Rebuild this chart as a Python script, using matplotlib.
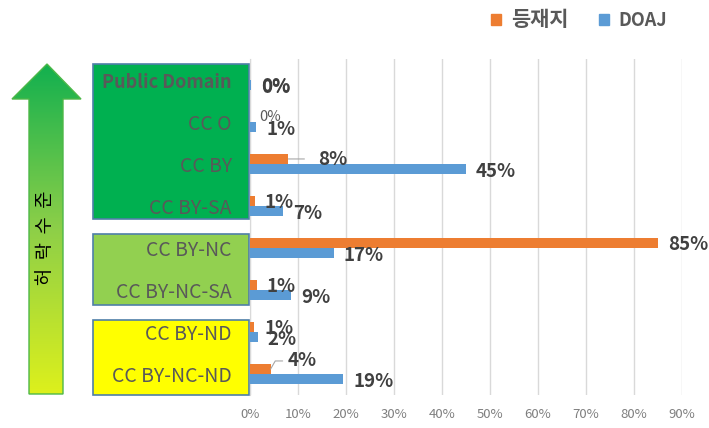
import matplotlib
matplotlib.use("Agg")
import matplotlib.pyplot as plt
import numpy as np
from matplotlib.colors import LinearSegmentedColormap
from matplotlib.patches import Polygon, Rectangle

plt.rcParams["font.family"] = ["Noto Sans CJK KR", "DejaVu Sans"]

# data, top row first
categories = ["Public Domain", "CC O", "CC BY", "CC BY-SA",
              "CC BY-NC", "CC BY-NC-SA", "CC BY-ND", "CC BY-NC-ND"]
journals = [0.0, 0.0, 8.0, 1.0, 85.0, 1.4, 0.9, 4.3]      # 등재지
doaj = [0.3, 1.3, 45.0, 6.9, 17.4, 8.6, 1.6, 19.4]        # DOAJ
series_names = ["등재지", "DOAJ"]
x_ticks = [0, 10, 20, 30, 40, 50, 60, 70, 80, 90]
arrow_text = "허  락  수  준"

ORANGE = "#ED7D31"
BLUE = "#5B9BD5"
LABEL = "#404040"

W, H = 709, 428
fig = plt.figure(figsize=(W / 100, H / 100), dpi=100)

# background layer in pixel coordinates: arrow + group boxes
bg = fig.add_axes([0, 0, 1, 1], zorder=0)
bg.set_xlim(0, W)
bg.set_ylim(H, 0)
bg.axis("off")

arrow_pts = [(47, 64), (12, 99), (29, 99), (29, 394), (63, 394), (63, 99), (81, 99)]
arrow = Polygon(arrow_pts, closed=True, facecolor="none", edgecolor="#4DB848", lw=1.0, zorder=3)
bg.add_patch(arrow)
grad_cmap = LinearSegmentedColormap.from_list("g", ["#12B04F", "#8DCF48", "#DDF01C"])
grad = bg.imshow(np.linspace(0, 1, 256).reshape(-1, 1), cmap=grad_cmap, aspect="auto",
                 extent=(12, 81, 394, 64), zorder=2)
grad.set_clip_path(arrow)
bg.text(46, 238, arrow_text, rotation=90, ha="center", va="center",
        fontsize=13.5, color="black", zorder=4)

boxes = [(64, 219, "#00B050"), (234, 305, "#92D050"), (320, 395, "#FFFF00")]
for top, bottom, color in boxes:
    bg.add_patch(Rectangle((93, top), 156, bottom - top, facecolor=color,
                           edgecolor="#4F7FA8", lw=1.2, zorder=2))

# main chart
ax = fig.add_axes([250 / W, 1 - 395 / H, (682 - 250) / W, (395 - 59) / H], zorder=1)
ax.patch.set_alpha(0)
y = np.arange(len(categories))
h = 0.24
ax.barh(y - h / 2, journals, height=h, color=ORANGE, zorder=3)
ax.barh(y + h / 2, doaj, height=h, color=BLUE, zorder=3)
ax.set_ylim(len(categories) - 0.5, -0.5)
ax.set_xlim(0, 90)
ax.set_xticks(x_ticks)
ax.set_xticklabels([f"{t}%" for t in x_ticks], fontsize=9.5, color="#7F7F7F")
ax.set_yticks(y)
ax.set_yticklabels(categories, fontsize=14, color="#595959")
ax.get_yticklabels()[0].set_fontweight("bold")
ax.get_yticklabels()[0].set_fontsize(13)
ax.tick_params(axis="y", length=0, pad=13)
ax.tick_params(axis="x", length=0, pad=9)
ax.grid(axis="x", color="#D9D9D9", lw=1, zorder=0)
for side in ["top", "right", "bottom"]:
    ax.spines[side].set_visible(False)
ax.spines["left"].set_color("#D9D9D9")

# data labels (offsets in pixels, like dragged Excel labels)
default_off = (10, -2)
moved = {(0, 0): (11, -12), (0, 2): (30, -1), (0, 7): (17, 8), (0, 1): (9, 0)}
for s, vals in enumerate([journals, doaj]):
    for i, v in enumerate(vals):
        yy = i - h / 2 if s == 0 else i + h / 2
        dx, dy = moved.get((s, i), default_off)
        small = (s, i) == (0, 1)
        ax.annotate(f"{round(v)}%", (v, yy), xytext=(dx, dy), textcoords="offset pixels",
                    ha="left", va="center", color="#595959" if small else LABEL,
                    fontsize=10.5 if small else 13.5, fontweight="normal" if small else "bold",
                    zorder=5, annotation_clip=False)

# leader lines for moved labels
ax.annotate("", (journals[2], 2 - h / 2), xytext=(16, 0), textcoords="offset pixels",
            arrowprops=dict(arrowstyle="-", color="#A6A6A6", lw=0.8, shrinkA=0, shrinkB=0))
ax.annotate("", (journals[7], 7 - h / 2), xytext=(12, 8), textcoords="offset pixels",
            arrowprops=dict(arrowstyle="-", color="#A6A6A6", lw=0.8, shrinkA=0, shrinkB=0,
                            connectionstyle="angle,angleA=0,angleB=60"))

# legend
leg = ax.legend(handles=[Rectangle((0, 0), 1, 1, color=ORANGE), Rectangle((0, 0), 1, 1, color=BLUE)],
                labels=series_names, loc="lower left", bbox_to_anchor=(491 / W, 1 - 30 / H),
                bbox_transform=fig.transFigure, ncol=2, frameon=False, handlelength=0.55,
                handleheight=0.55, handletextpad=0.55, columnspacing=1.7, borderaxespad=0,
                borderpad=0, prop={"size": 13, "weight": "bold"})
for t in leg.get_texts():
    t.set_color("#595959")
leg.get_texts()[0].set_fontsize(15)

fig.savefig("out.png", dpi=100)
